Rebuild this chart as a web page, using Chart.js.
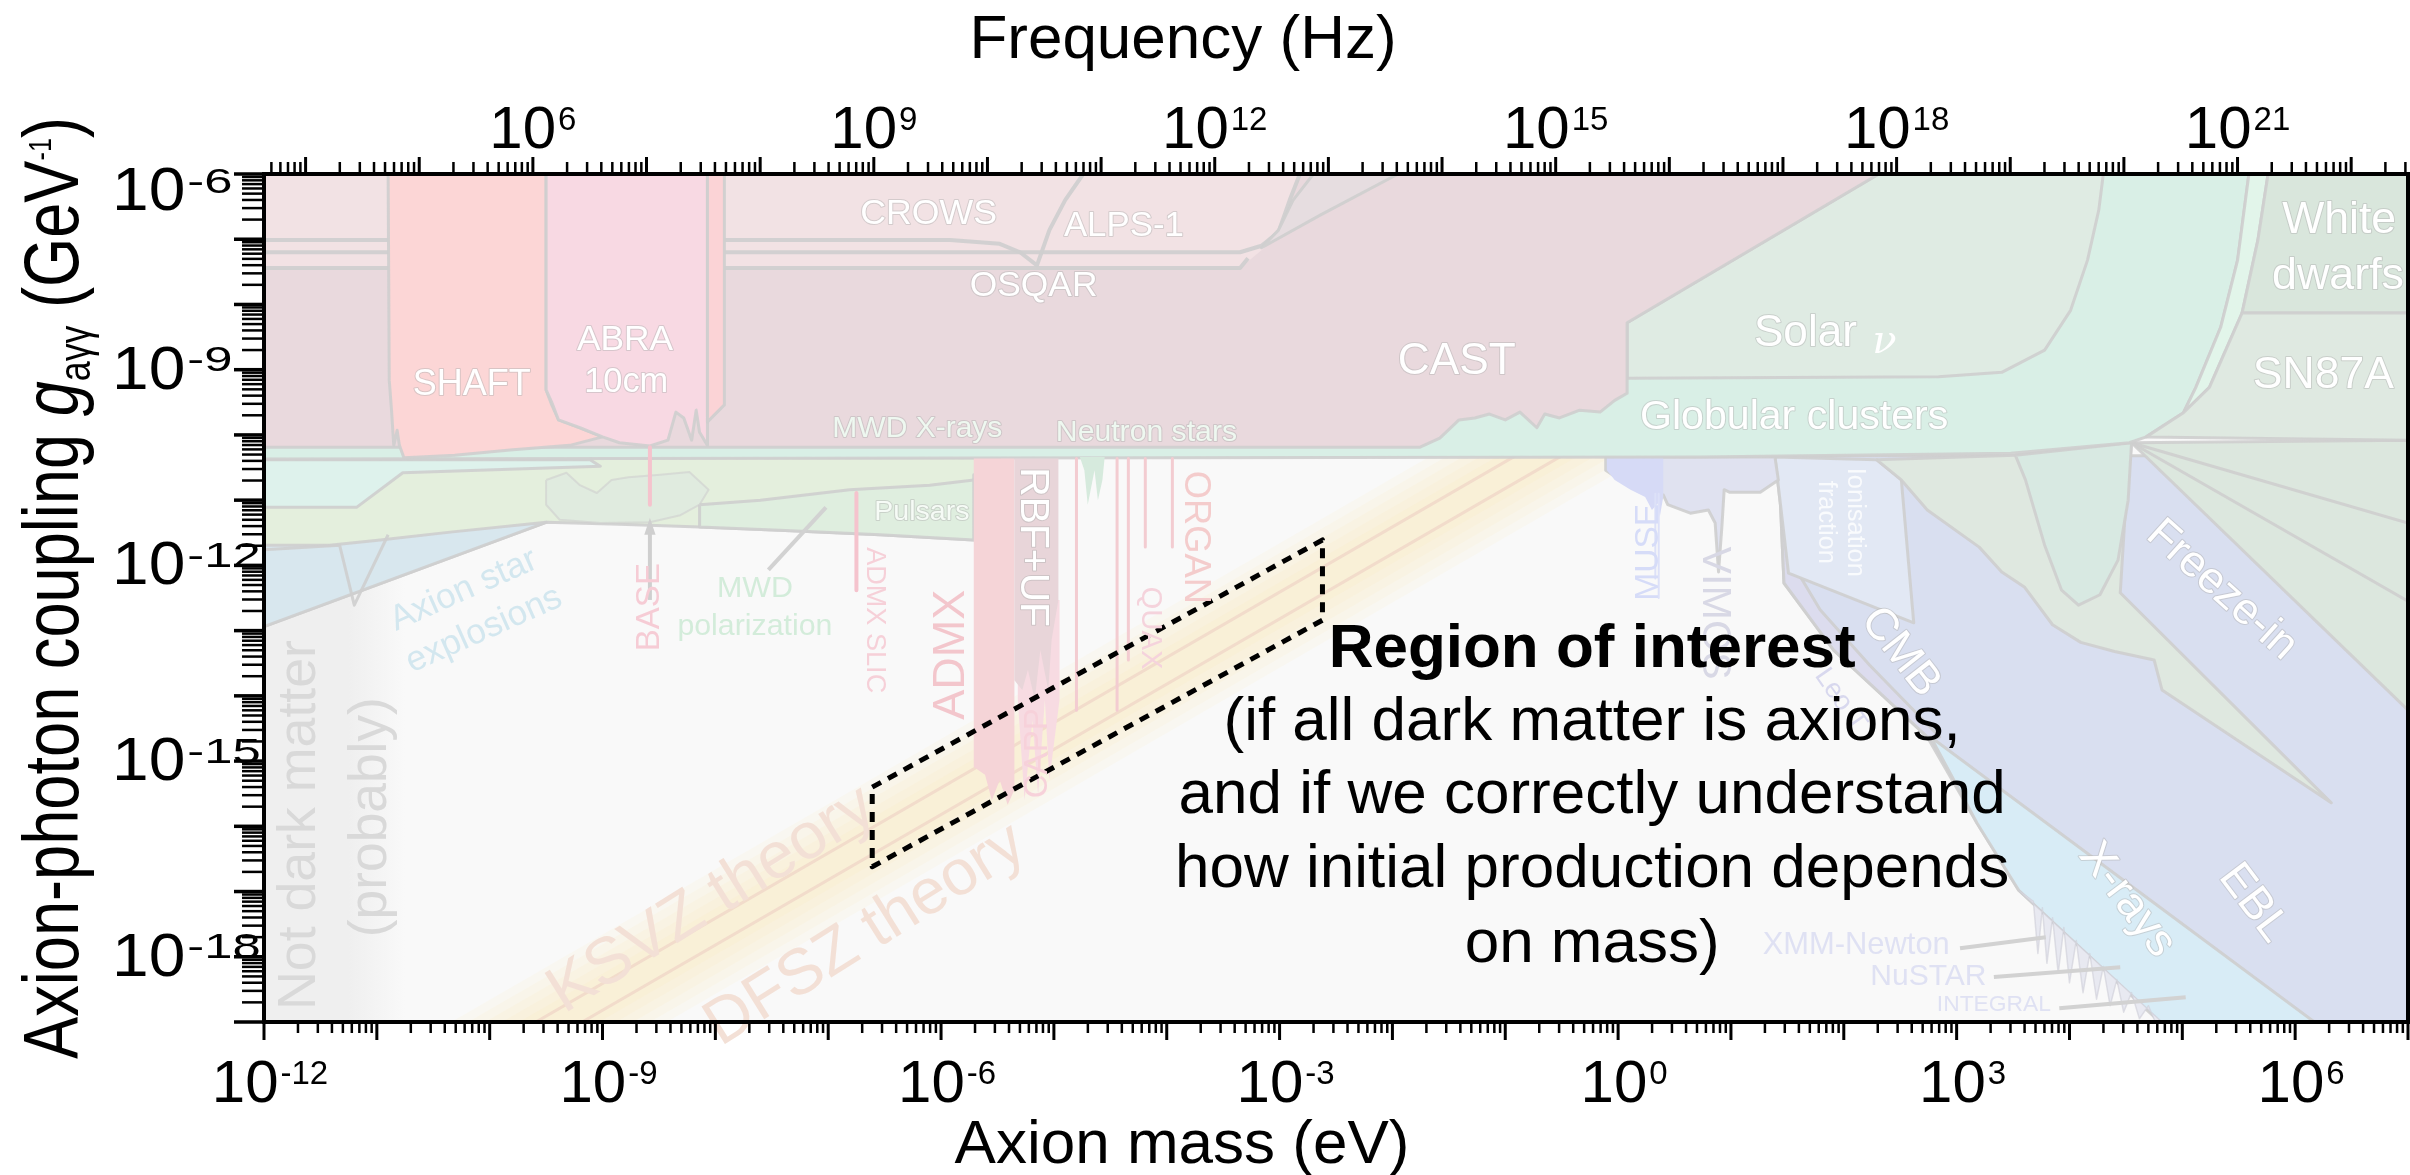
<!DOCTYPE html>
<html>
<head>
<meta charset="utf-8">
<title>Axion-photon coupling limits</title>
<script src="https://cdn.jsdelivr.net/npm/chart.js@4.4.1/dist/chart.umd.min.js"></script>
<style>
  html, body { margin: 0; padding: 0; background: #ffffff; }
  #wrap { width: 2410px; height: 1175px; }
</style>
</head>
<body>
<div id="wrap"><canvas id="axionChart" width="2410" height="1175"></canvas></div>
<script>
const FONT = "'Liberation Sans', Arial, Helvetica, sans-serif";

// axis ranges (mass in eV, coupling in GeV^-1, frequency in Hz)
const massRange = [1e-12, 1e7];
const couplingRange = [1e-19, 1e-6];
const freqRange = [Math.pow(10, 3.634), Math.pow(10, 22.5)];
const massLabelExps = [-12, -9, -6, -3, 0, 3, 6];
const freqLabelExps = [6, 9, 12, 15, 18, 21];
const couplingLabelExps = [-6, -9, -12, -15, -18];

// every region is a list of [log10 mass/eV, log10 coupling/GeV^-1] vertices
const notDarkMatter = [[-12, -6], [-10.7, -6], [-10.7, -19], [-12, -19]];
// soft glow around the QCD axion band, widest first
const theoryGlow = [
  [[-10.5, -19.16], [1.5, -7.16], [1.5, -9.07], [-10.5, -21.07]],
  [[-10.5, -19.31], [1.5, -7.31], [1.5, -8.92], [-10.5, -20.92]],
  [[-10.5, -19.46], [1.5, -7.46], [1.5, -8.77], [-10.5, -20.77]],
  [[-10.5, -19.61], [1.5, -7.61], [1.5, -8.62], [-10.5, -20.62]],
  [[-10.5, -19.76], [1.5, -7.76], [1.5, -8.47], [-10.5, -20.47]]
];
const ksvzLine = [[-10.5, -19.91], [1.5, -7.91]];
const dfszLine = [[-10.5, -20.32], [1.5, -8.32]];

// astrophysics below the globular cluster bound, low masses
const astroBase = [[-12, -10.35], [-5.48, -10.35], [-5.48, -10.54], [-5.71, -10.61], [-5.71, -11.61], [-6.54, -11.53],
  [-7.43, -11.46], [-8.14, -11.41], [-8.85, -11.37], [-9.50, -11.34], [-12, -12.94]];
const tealBand = [[-12, -10.38], [-9.11, -10.38], [-9.02, -10.48], [-10.77, -10.58], [-11.18, -11.11], [-12, -11.11]];
const mwdBlob = [[-9.50, -10.69], [-9.32, -10.58], [-9.20, -10.77], [-9.05, -10.89], [-8.92, -10.69], [-8.77, -10.65],
  [-8.49, -10.61], [-8.23, -10.57], [-8.06, -10.84], [-8.14, -11.07], [-8.31, -11.23], [-8.58, -11.34], [-9.02, -11.35],
  [-9.38, -11.30], [-9.50, -11.07]];
const pulsarRegion = [[-8.14, -11.07], [-7.60, -11.0], [-6.81, -10.84], [-6.10, -10.77], [-5.71, -10.69], [-5.71, -11.61],
  [-6.54, -11.53], [-7.43, -11.46], [-8.14, -11.41]];
const axionStarRegion = [[-12, -11.69], [-11.42, -11.69], [-10.97, -11.61], [-10.35, -11.49], [-9.50, -11.34], [-12, -12.94]];
const zigzagEdge = [[-12, -11.76], [-11.33, -11.69], [-11.20, -12.61], [-10.90, -11.53]];

// cosmology / telescopes, high masses
const cosmologyBlue = [[1.39, -10.32], [7, -10.32], [7, -19], [5.34, -19], [4.80, -18.97], [3.55, -16.98], [3.18, -15.95],
  [2.74, -14.63], [1.91, -13.30], [1.47, -12.27], [1.44, -11.10]];
const xrayStrip = [[2.77, -14.63], [6.17, -19], [4.80, -19], [3.55, -16.98], [3.18, -15.95]];
const leoTStrip = [[1.44, -10.54], [1.54, -10.54], [1.58, -12.07], [1.79, -12.68], [2.23, -13.53], [2.85, -14.63],
  [2.74, -14.63], [1.91, -13.30], [1.47, -12.27], [1.44, -11.10]];
const ionisation = [[1.39, -10.34], [2.29, -10.38], [2.51, -10.69], [2.62, -12.88], [1.51, -12.12]];
const telescopes = [[-0.11, -10.34], [1.39, -10.34], [1.42, -10.69], [1.26, -10.88], [0.99, -10.88], [0.94, -10.84],
  [0.92, -11.40], [0.89, -12.10], [0.86, -11.35], [0.80, -11.15], [0.64, -11.20], [0.44, -11.07], [0.40, -10.92],
  [0.19, -10.84], [0.02, -10.69], [-0.11, -10.54]];
const museRegion = [[-0.10, -10.34], [0.40, -10.34], [0.40, -10.95], [0.37, -11.25], [0.35, -11.05], [0.30, -11.15],
  [0.24, -10.95], [0.11, -10.84], [-0.03, -10.69], [-0.10, -10.54]];
const nustarSpikes = [[3.55, -16.98], [3.68, -17.15], [3.72, -17.95], [3.76, -17.25], [3.80, -18.10], [3.85, -17.40],
  [3.90, -18.25], [3.95, -17.55], [4.00, -18.40], [4.06, -17.75], [4.12, -18.55], [4.18, -17.95], [4.24, -18.65],
  [4.30, -18.15], [4.36, -18.75], [4.42, -18.35], [4.48, -18.85], [4.55, -18.55], [4.62, -18.95], [4.70, -18.75],
  [4.76, -19], [4.80, -18.97]];
const freezeFan = [[4.55, -10.12], [7, -10.08], [7, -14.22]];
const fanLineA = [[4.55, -10.12], [7, -11.35]];
const fanLineB = [[4.55, -10.12], [7, -12.55]];
const freezeTongue = [[2.29, -10.38], [3.52, -10.31], [4.55, -10.12], [4.49, -11.30], [4.45, -12.42], [6.32, -15.64],
  [4.82, -13.91], [4.75, -13.45], [4.40, -13.32], [4.10, -13.18], [3.85, -12.91], [3.60, -12.33], [3.40, -12.10],
  [3.20, -11.72], [2.74, -11.15], [2.51, -10.69]];
const teardrop = [[3.52, -10.31], [4.55, -10.12], [4.52, -11.0], [4.43, -11.92], [4.27, -12.45], [4.08, -12.61],
  [3.93, -12.38], [3.78, -11.69], [3.61, -10.69]];

// stellar bounds and helioscopes
const globularBand = [[-12, -10.08], [0.08, -9.08], [4.30, -6], [5.59, -6], [5.49, -7.32], [5.34, -8.35], [5.12, -9.27],
  [5.01, -9.66], [4.68, -10.03], [4.53, -10.12], [3.48, -10.28], [0.73, -10.34], [-12, -10.37]];
const solarNu = [[0.08, -8.28], [2.31, -6], [4.30, -6], [4.26, -6.55], [4.16, -7.32], [4.01, -8.09], [3.78, -8.70],
  [3.40, -9.04], [2.84, -9.11], [0.08, -9.13]];
const paleStrip = [[5.59, -6], [5.76, -6], [5.67, -7.01], [5.53, -8.13], [5.24, -9.27], [5.01, -9.66], [5.12, -9.27],
  [5.34, -8.35], [5.49, -7.32]];
const whiteDwarfs = [[5.76, -6], [7, -6], [7, -8.13], [5.53, -8.13], [5.67, -7.01]];
const sn87a = [[5.53, -8.13], [7, -8.13], [7, -10.08], [4.68, -10.03], [5.01, -9.66], [5.24, -9.27]];
const castRegion = [[-12, -6], [2.31, -6], [0.08, -8.28], [0.08, -9.36], [-0.03, -9.47], [-0.16, -9.65], [-0.34, -9.62],
  [-0.52, -9.74], [-0.65, -9.68], [-0.72, -9.89], [-0.87, -9.65], [-1.0, -9.77], [-1.14, -9.68], [-1.27, -9.74],
  [-1.41, -9.77], [-1.58, -10.05], [-1.76, -10.19], [-12, -10.19]];

// light shining through walls
const lswRegion = [[-12, -6], [-2.82, -6], [-2.91, -6.40], [-3.01, -6.94], [-3.16, -7.17], [-3.35, -7.44], [-12, -7.44]];
const crowsLine = [[-12, -7.01], [-5.92, -7.01], [-5.48, -7.07], [-5.30, -7.20], [-5.15, -7.40], [-5.04, -6.86],
  [-4.90, -6.40], [-4.74, -6.0]];
const alpsLine = [[-12, -7.20], [-3.35, -7.20], [-3.16, -7.10], [-3.01, -6.89], [-2.91, -6.40], [-2.82, -6.0]];
const osqarLine = [[-12, -7.44], [-3.35, -7.44], [-3.28, -7.29]];
const pvlasPatch = [[-2.70, -6], [-1.95, -6], [-2.64, -6.63], [-3.16, -7.13], [-3.01, -6.86], [-2.88, -6.40]];

// haloscopes
const shaftRegion = [[-10.90, -6], [-9.50, -6], [-9.50, -9.31], [-9.45, -9.54], [-9.39, -9.77], [-9.20, -9.89],
  [-9.00, -10.03], [-9.29, -10.16], [-9.82, -10.23], [-10.31, -10.31], [-10.62, -10.34], [-10.76, -10.35],
  [-10.80, -10.16], [-10.82, -9.93], [-10.85, -10.16], [-10.87, -9.62], [-10.89, -9.16]];
const abraRegion = [[-9.50, -6], [-8.07, -6], [-8.07, -10.16], [-8.14, -9.96], [-8.17, -9.62], [-8.21, -10.08],
  [-8.28, -9.74], [-8.35, -9.65], [-8.42, -10.08], [-8.58, -10.17], [-8.85, -10.12], [-9.00, -10.03], [-9.20, -9.89],
  [-9.39, -9.77], [-9.45, -9.50], [-9.50, -9.31]];
const slicStripe = [[-8.07, -6], [-7.92, -6], [-7.92, -9.54], [-8.07, -9.80]];
const cappRegion = [[-5.32, -12.53], [-4.95, -12.53], [-4.95, -14.06], [-5.04, -15.29], [-5.08, -14.06], [-5.14, -15.52],
  [-5.19, -14.37], [-5.26, -15.60], [-5.32, -14.06]];
const admxRegion = [[-5.71, -10.36], [-5.35, -10.36], [-5.35, -15.44], [-5.41, -15.67], [-5.48, -15.29], [-5.55, -15.60],
  [-5.61, -15.21], [-5.71, -15.09]];
const rbfRegion = [[-5.35, -10.36], [-4.96, -10.36], [-4.96, -12.53], [-5.02, -13.14], [-5.05, -13.91], [-5.12, -13.30],
  [-5.17, -14.06], [-5.23, -13.60], [-5.28, -13.91], [-5.35, -13.76]];
const neutronStarSpikes = [[-4.77, -10.34], [-4.55, -10.34], [-4.57, -10.69], [-4.61, -11.0], [-4.64, -10.54],
  [-4.70, -11.07], [-4.73, -10.54]];
const haloscopeLines = [
  [[-4.80, -10.36], [-4.80, -14.22]],
  [[-4.44, -10.36], [-4.44, -14.22]],
  [[-4.34, -10.36], [-4.34, -13.45]],
  [[-4.19, -10.36], [-4.19, -11.72]],
  [[-3.95, -10.36], [-3.95, -11.72]]
];
const museLines = [
  [[0.36, -10.9], [0.36, -12.5]],
  [[0.33, -10.9], [0.33, -12.2]]
];
const baseLine = [[-8.58, -10.19], [-8.58, -11.07]];
const slicLine = [[-6.75, -10.89], [-6.75, -12.38]];

// pointers
const basePointer = [[-8.58, -12.53], [-8.58, -11.40]];
const baseArrowHead = [[-8.58, -11.27], [-8.63, -11.53], [-8.53, -11.53]];
const mwdPointer = [[-7.02, -11.11], [-7.53, -12.07]];
const xmmPointer = [[3.03, -17.87], [3.79, -17.70]];
const nustarPointer = [[3.33, -18.31], [4.45, -18.16]];
const integralPointer = [[3.91, -18.79], [5.03, -18.62]];

const regionOfInterest = [[-6.61, -15.40], [-2.62, -11.61], [-2.62, -12.84], [-6.61, -16.62]];

// labels: position [log10 m, log10 g], w = drawn text width in px, rot in degrees
const faintLabels = [
  { t: 'Not dark matter', m: -11.68, g: -15.98, w: 370, rot: -90, c: '#d9d9d9' },
  { t: '(probably)', m: -11.05, g: -15.86, w: 240, rot: -90, c: '#d9d9d9' },
  { t: 'KSVZ theory', m: -8.03, g: -17.13, w: 372, rot: -32, c: '#f3e0d6' },
  { t: 'DFSZ theory', m: -6.67, g: -17.67, w: 364, rot: -32, c: '#f3e0d6' }
];
const regionLabels = [
  { t: 'CROWS', m: -6.11, g: -6.61, w: 137, c: '#ffffff', s: 1 },
  { t: 'ALPS-1', m: -4.38, g: -6.80, w: 120, c: '#ffffff', s: 1 },
  { t: 'OSQAR', m: -5.18, g: -7.72, w: 128, c: '#ffffff', s: 1 },
  { t: 'SHAFT', m: -10.16, g: -9.24, w: 118, c: '#ffffff', s: 1 },
  { t: 'ABRA', m: -8.80, g: -8.55, w: 96, c: '#ffffff', s: 1 },
  { t: '10cm', m: -8.79, g: -9.19, w: 84, c: '#ffffff', s: 1 },
  { t: 'CAST', m: -1.43, g: -8.88, w: 118, c: '#ffffff', s: 1 },
  { t: 'Solar', m: 1.66, g: -8.45, w: 103, c: '#ffffff', s: 1 },
  { t: '\u03bd', m: 2.36, g: -8.58, size: 40, italic: true, fam: "'DejaVu Serif', 'Liberation Serif', serif", c: '#ffffff' },
  { t: 'Globular clusters', m: 1.56, g: -9.74, w: 308, c: '#ffffff', s: 1 },
  { t: 'White', m: 6.39, g: -6.72, w: 114, c: '#ffffff', s: 1 },
  { t: 'dwarfs', m: 6.38, g: -7.58, w: 132, c: '#ffffff', s: 1 },
  { t: 'SN87A', m: 6.25, g: -9.10, w: 141, c: '#ffffff', s: 1 },
  { t: 'Freeze-in', m: 5.35, g: -12.38, w: 186, rot: 42, c: '#ffffff', s: 1 },
  { t: 'CMB', m: 2.50, g: -13.33, w: 100, rot: 52, c: '#ffffff', s: 1 },
  { t: 'X-rays', m: 4.51, g: -17.13, w: 130, rot: 53, c: '#ffffff', s: 1 },
  { t: 'EBL', m: 5.63, g: -17.18, w: 85, rot: 53, c: '#ffffff', s: 1 },
  { t: 'RBF+UF', m: -5.19, g: -11.72, w: 160, rot: 90, c: '#ffffff', s: 1 },
  { t: 'Pulsars', m: -6.17, g: -11.18, w: 95, c: '#f6fbf6', s: 1 },
  { t: 'MWD X-rays', m: -6.21, g: -9.91, w: 170, c: '#eef8f0', s: 1 },
  { t: 'Neutron stars', m: -4.18, g: -9.96, w: 181, c: '#eef8f0', s: 1 },
  { t: 'Ionisation', m: 2.10, g: -11.34, w: 109, rot: 90, c: 'rgba(255,255,255,0.8)' },
  { t: 'fraction', m: 1.84, g: -11.34, w: 83, rot: 90, c: 'rgba(255,255,255,0.8)' },
  { t: 'BASE', m: -8.58, g: -12.64, w: 88, rot: -90, c: '#f6ccd5' },
  { t: 'ADMX SLIC', m: -6.59, g: -12.84, w: 146, rot: 90, c: '#f6d0d8' },
  { t: 'ADMX', m: -5.91, g: -13.37, w: 130, rot: -90, c: '#f3c6cc' },
  { t: 'CAPP', m: -5.14, g: -14.88, w: 90, rot: -90, c: '#f7d1da' },
  { t: 'QUAX', m: -4.15, g: -12.96, w: 83, rot: 90, c: '#f5d3dc' },
  { t: 'ORGAN', m: -3.75, g: -11.57, w: 133, rot: 90, c: '#f4cccc' },
  { t: 'MUSE', m: 0.27, g: -11.80, w: 97, rot: -90, c: '#d6dcf8' },
  { t: 'VIMOS', m: 0.85, g: -12.73, w: 133, rot: 90, c: '#d8d8e5' },
  { t: 'MWD', m: -7.65, g: -12.36, w: 76, c: '#d3ecda' },
  { t: 'polarization', m: -7.65, g: -12.94, w: 155, c: '#d3ecda' },
  { t: 'Axion star', m: -10.23, g: -12.38, w: 157, rot: -24, c: '#d3e7ef' },
  { t: 'explosions', m: -10.05, g: -12.99, w: 167, rot: -24, c: '#d3e7ef' },
  { t: 'Leo T', m: 1.97, g: -14.06, w: 70, rot: 55, c: '#d8d8ee' },
  { t: 'XMM-Newton', m: 2.11, g: -17.82, w: 187, c: '#dfe1f3' },
  { t: 'NuSTAR', m: 2.75, g: -18.30, w: 116, c: '#dfe1f3' },
  { t: 'INTEGRAL', m: 3.33, g: -18.74, w: 114, c: '#dfe1f3' }
];
const noteCentre = -0.23;
const noteLines = [
  { t: 'Region of interest', g: -13.56, bold: true },
  { t: '(if all dark matter is axions,', g: -14.68 },
  { t: 'and if we correctly understand', g: -15.80 },
  { t: 'how initial production depends', g: -16.93 },
  { t: 'on mass)', g: -18.08 }
];

const EDGE = 'rgba(206,206,206,0.9)';
const toPoints = arr => arr.map(p => ({ x: Math.pow(10, p[0]), y: Math.pow(10, p[1]) }));

function area(pts, fill, edge, width) {
  const d = toPoints(pts);
  d.push(d[0]);
  return { data: d, showLine: true, fill: 'shape', backgroundColor: fill,
    borderColor: edge || 'rgba(0,0,0,0)', borderWidth: edge ? (width || 3) : 0,
    pointRadius: 0, tension: 0, borderJoinStyle: 'round' };
}
function path(pts, color, width, dash) {
  return { data: toPoints(pts), showLine: true, fill: false, borderColor: color, borderWidth: width || 3,
    borderDash: dash || [], pointRadius: 0, tension: 0, borderCapStyle: 'butt', borderJoinStyle: 'round' };
}

const notDmSet = area(notDarkMatter, function (context) {
  const chart = context.chart;
  if (!chart.chartArea) return '#efefef';
  const xs = chart.scales.x;
  const x0 = xs.getPixelForValue(Math.pow(10, -11.25));
  const x1 = xs.getPixelForValue(Math.pow(10, -10.75));
  const grad = chart.ctx.createLinearGradient(x0, 0, x1, 0);
  grad.addColorStop(0, 'rgba(239,239,239,1)');
  grad.addColorStop(1, 'rgba(239,239,239,0)');
  return grad;
});

const GLOW = 'rgba(254,224,150,0.075)';
const astroBaseSet = area(astroBase, '#e4efdd', EDGE);
astroBaseSet.underlay = true;

const layers = [
  notDmSet,
  ...theoryGlow.map(g => area(g, GLOW)),
  path(ksvzLine, '#f2dccb', 3),
  path(dfszLine, '#f2dccb', 3),
  astroBaseSet,
  area(tealBand, '#def2ec', EDGE),
  area(mwdBlob, '#e0ebdf', 'rgba(206,206,206,0.6)', 2),
  area(pulsarRegion, '#dfeedf', EDGE),
  area(axionStarRegion, '#d8e7ee', EDGE),
  path(zigzagEdge, EDGE, 3),
  area(cosmologyBlue, '#d9dff0', EDGE),
  area(xrayStrip, '#d8ecf6', EDGE),
  area(nustarSpikes, '#e8e9f1', 'rgba(205,205,215,0.6)', 1.5),
  area(leoTStrip, '#dcdcee', EDGE),
  area(ionisation, '#e2e8f4', EDGE),
  area(telescopes, '#e0e2f0', EDGE),
  area(museRegion, '#d6daf6'),
  ...museLines.map(l => path(l, '#dde1f8', 2)),
  area(freezeFan, '#dce7de', EDGE),
  path(fanLineA, EDGE, 3),
  path(fanLineB, EDGE, 3),
  area(freezeTongue, '#dfe8e0', EDGE),
  area(teardrop, '#d8e9e2', EDGE),
  area(globularBand, '#d9efe6', EDGE),
  area(solarNu, '#dfebe3', EDGE),
  area(paleStrip, '#e2f5ea', EDGE),
  area(whiteDwarfs, '#d9e6dc', EDGE),
  area(sn87a, '#dfe9e1', EDGE),
  area(castRegion, '#e9d9dd', EDGE),
  area(lswRegion, '#f2e2e4'),
  path(crowsLine, EDGE, 4),
  path(alpsLine, EDGE, 4),
  path(osqarLine, EDGE, 4),
  area(pvlasPatch, '#e6dde0', EDGE),
  area(shaftRegion, '#fcd6d6', EDGE),
  area(abraRegion, '#f8d9e3', EDGE),
  area(slicStripe, '#fbd3d6', EDGE),
  area(cappRegion, '#f7dbe2'),
  area(admxRegion, '#f5d4d7'),
  area(rbfRegion, '#e8d5d9'),
  area(neutronStarSpikes, '#d6eadd'),
  ...haloscopeLines.map(l => path(l, '#f3ccd1', 3)),
  path(baseLine, '#f5c3cd', 4),
  path(slicLine, '#f5c3cd', 4),
  path(basePointer, '#cfcfcf', 4),
  area(baseArrowHead, '#cfcfcf'),
  path(mwdPointer, '#d2d2d2', 4),
  path(xmmPointer, '#d2d2d2', 4),
  path(nustarPointer, '#d2d2d2', 4),
  path(integralPointer, '#d2d2d2', 4),
  area(regionOfInterest, 'rgba(0,0,0,0)', '#000000', 5)
];
// dashed outline for the region of interest
layers[layers.length - 1].borderDash = [10, 8];
// first entry is the bottom layer
layers.forEach((d, i) => { d.order = layers.length - i; });

function drawLabel(chart, l) {
  const ctx = chart.ctx;
  const x = chart.scales.x.getPixelForValue(Math.pow(10, l.m));
  const y = chart.scales.y.getPixelForValue(Math.pow(10, l.g));
  const style = (l.italic ? 'italic ' : '') + (l.bold ? 'bold ' : '');
  const fam = l.fam || FONT;
  ctx.save();
  ctx.font = style + '100px ' + fam;
  const size = l.size || 100 * l.w / ctx.measureText(l.t).width;
  ctx.font = style + size.toFixed(1) + 'px ' + fam;
  ctx.translate(x, y);
  if (l.rot) ctx.rotate(l.rot * Math.PI / 180);
  ctx.textAlign = 'center';
  ctx.textBaseline = 'middle';
  if (l.s) {
    ctx.lineWidth = 2;
    ctx.lineJoin = 'round';
    ctx.strokeStyle = 'rgba(175,175,175,0.45)';
    ctx.strokeText(l.t, 0, 0);
  }
  ctx.fillStyle = l.c;
  ctx.fillText(l.t, 0, 0);
  ctx.restore();
}

function logTicks(lo, hi) {
  const out = [];
  for (let d = Math.floor(lo); d <= Math.ceil(hi); d++) {
    for (let k = 1; k <= 9; k++) {
      const e = d + Math.log10(k);
      if (e >= lo - 1e-6 && e <= hi + 1e-6) out.push({ v: k * Math.pow(10, d), major: k === 1 });
    }
  }
  return out;
}

// "10" with a raised exponent
function drawPower(ctx, exp, x, baseline, align, base, sup, baseStretch, supStretch) {
  const s = String(exp);
  ctx.font = base + 'px ' + FONT;
  const w1 = ctx.measureText('10').width * baseStretch;
  ctx.font = sup + 'px ' + FONT;
  const w2 = ctx.measureText(s).width * supStretch;
  const gap = 2;
  const total = w1 + gap + w2;
  const left = align === 'center' ? x - total / 2 : x;
  ctx.textAlign = 'left';
  ctx.textBaseline = 'alphabetic';
  ctx.fillStyle = '#000000';
  ctx.save();
  ctx.translate(left, baseline);
  ctx.scale(baseStretch, 1);
  ctx.font = base + 'px ' + FONT;
  ctx.fillText('10', 0, 0);
  ctx.restore();
  ctx.save();
  ctx.translate(left + w1 + gap, baseline - 0.716 * (base - sup * 1.05));
  ctx.scale(supStretch, 1);
  ctx.font = sup + 'px ' + FONT;
  ctx.fillText(s, 0, 0);
  ctx.restore();
}

function drawYTitle(ctx) {
  const F = 60, S = 34, T = 24;
  const parts = [
    { t: 'Axion-photon coupling ', f: F + 'px ' + FONT, dy: 0 },
    { t: 'g', f: 'italic ' + F + 'px ' + FONT, dy: 0 },
    { t: 'a\u03b3\u03b3', f: S + 'px ' + FONT, dy: 12 },
    { t: ' (GeV', f: F + 'px ' + FONT, dy: 0 },
    { t: '-1', f: T + 'px ' + FONT, dy: -27 },
    { t: ')', f: F + 'px ' + FONT, dy: 0 }
  ];
  let total = 0;
  parts.forEach(p => { ctx.font = p.f; p.w = ctx.measureText(p.t).width; total += p.w; });
  const span = 942;
  ctx.save();
  ctx.translate(78, 588);
  ctx.rotate(-Math.PI / 2);
  ctx.scale(span / total, 1.3);
  ctx.fillStyle = '#000000';
  ctx.textAlign = 'left';
  ctx.textBaseline = 'alphabetic';
  let x = -total / 2;
  parts.forEach(p => { ctx.font = p.f; ctx.fillText(p.t, x, p.dy / 1.3); x += p.w; });
  ctx.restore();
}

const decor = {
  id: 'decor',
  beforeDatasetsDraw(chart) {
    const { ctx, chartArea: a } = chart;
    ctx.save();
    ctx.fillStyle = '#f9f9f9';
    ctx.fillRect(a.left, a.top, a.right - a.left, a.bottom - a.top);
    ctx.restore();
  },
  beforeDatasetDraw(chart, args) {
    if (!chart.data.datasets[args.index].underlay) return;
    faintLabels.forEach(l => drawLabel(chart, l));
  },
  afterDatasetsDraw(chart) {
    const ctx = chart.ctx;
    regionLabels.forEach(l => drawLabel(chart, l));
    const cx = chart.scales.x.getPixelForValue(Math.pow(10, noteCentre));
    ctx.save();
    ctx.fillStyle = '#000000';
    ctx.textAlign = 'center';
    ctx.textBaseline = 'alphabetic';
    noteLines.forEach(n => {
      ctx.font = (n.bold ? 'bold ' : '') + '62px ' + FONT;
      ctx.fillText(n.t, cx, chart.scales.y.getPixelForValue(Math.pow(10, n.g)));
    });
    ctx.restore();
  },
  afterDraw(chart) {
    const { ctx, chartArea: a, scales } = chart;
    ctx.save();
    ctx.strokeStyle = '#000000';
    ctx.lineWidth = 4;
    ctx.strokeRect(a.left, a.top, a.right - a.left, a.bottom - a.top);

    ctx.lineCap = 'butt';
    logTicks(-12, 7).forEach(t => {
      const px = scales.x.getPixelForValue(t.v);
      ctx.lineWidth = t.major ? 3 : 2.5;
      ctx.beginPath();
      ctx.moveTo(px, a.bottom);
      ctx.lineTo(px, a.bottom + (t.major ? 18 : 11));
      ctx.stroke();
    });
    logTicks(3.634, 22.5).forEach(t => {
      const px = scales.freq.getPixelForValue(t.v);
      ctx.lineWidth = t.major ? 3 : 2.5;
      ctx.beginPath();
      ctx.moveTo(px, a.top);
      ctx.lineTo(px, a.top - (t.major ? 17 : 12));
      ctx.stroke();
    });
    logTicks(-19, -6).forEach(t => {
      const py = scales.y.getPixelForValue(t.v);
      ctx.lineWidth = t.major ? 3.5 : 2.5;
      ctx.beginPath();
      ctx.moveTo(a.left, py);
      ctx.lineTo(a.left - (t.major ? 30 : 22), py);
      ctx.stroke();
    });

    massLabelExps.forEach(e => {
      drawPower(ctx, e, scales.x.getPixelForValue(Math.pow(10, e)) + 6, 1102, 'center', 60, 33, 1.0, 1.0);
    });
    freqLabelExps.forEach(e => {
      drawPower(ctx, e, scales.freq.getPixelForValue(Math.pow(10, e)), 148, 'center', 60, 33, 1.0, 1.0);
    });
    couplingLabelExps.forEach(e => {
      const py = scales.y.getPixelForValue(Math.pow(10, e));
      const base = Math.max(py + 19, 210);
      drawPower(ctx, e, 112, base, 'left', 61, 35, 1.08, 1.45);
    });

    ctx.fillStyle = '#000000';
    ctx.textAlign = 'center';
    ctx.textBaseline = 'alphabetic';
    ctx.font = '62px ' + FONT;
    ctx.fillText('Frequency (Hz)', 1183, 58);
    ctx.fillText('Axion mass (eV)', 1182, 1163);
    drawYTitle(ctx);
    ctx.restore();
  }
};

new Chart(document.getElementById('axionChart'), {
  type: 'scatter',
  data: { datasets: layers },
  options: {
    responsive: false,
    animation: false,
    devicePixelRatio: 1,
    events: [],
    layout: { padding: { left: 264, top: 174, right: 2, bottom: 153 } },
    plugins: { legend: { display: false }, tooltip: { enabled: false } },
    scales: {
      x: { type: 'logarithmic', position: 'bottom', min: massRange[0], max: massRange[1], display: false },
      y: { type: 'logarithmic', position: 'left', min: couplingRange[0], max: couplingRange[1], display: false },
      freq: { type: 'logarithmic', position: 'top', axis: 'x', min: freqRange[0], max: freqRange[1], display: false }
    }
  },
  plugins: [decor]
});
</script>
</body>
</html>
